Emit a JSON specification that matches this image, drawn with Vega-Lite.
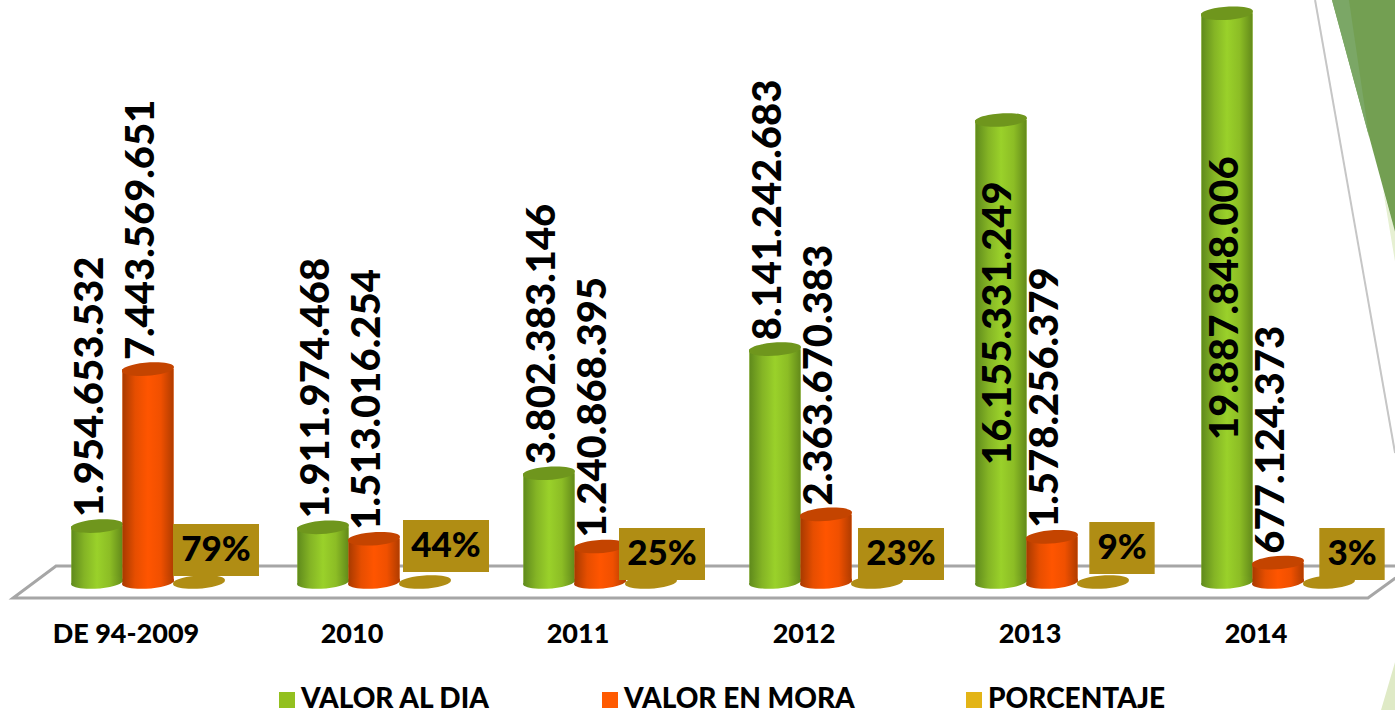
{
"$schema":"https://vega.github.io/schema/vega-lite/v6.json",
"width":1395,"height":710,"padding":0,"autosize":{"type":"none"},
"background":"white",
"config":{"view":{"stroke":null},"font":"Lato"},
"datasets":{
"rows":[
{"category":"DE 94-2009","series":"VALOR AL DIA","value":1954653532,"label":"1.954.653.532"},
{"category":"DE 94-2009","series":"VALOR EN MORA","value":7443569651,"label":"7.443.569.651"},
{"category":"DE 94-2009","series":"PORCENTAJE","value":0.79,"label":"79%"},
{"category":"2010","series":"VALOR AL DIA","value":1911974468,"label":"1.911.974.468"},
{"category":"2010","series":"VALOR EN MORA","value":1513016254,"label":"1.513.016.254"},
{"category":"2010","series":"PORCENTAJE","value":0.44,"label":"44%"},
{"category":"2011","series":"VALOR AL DIA","value":3802383146,"label":"3.802.383.146"},
{"category":"2011","series":"VALOR EN MORA","value":1240868395,"label":"1.240.868.395"},
{"category":"2011","series":"PORCENTAJE","value":0.25,"label":"25%"},
{"category":"2012","series":"VALOR AL DIA","value":8141242683,"label":"8.141.242.683"},
{"category":"2012","series":"VALOR EN MORA","value":2363670383,"label":"2.363.670.383"},
{"category":"2012","series":"PORCENTAJE","value":0.23,"label":"23%"},
{"category":"2013","series":"VALOR AL DIA","value":16155331249,"label":"16.155.331.249"},
{"category":"2013","series":"VALOR EN MORA","value":1578256379,"label":"1.578.256.379"},
{"category":"2013","series":"PORCENTAJE","value":0.09,"label":"9%"},
{"category":"2014","series":"VALOR AL DIA","value":19887848006,"label":"19.887.848.006"},
{"category":"2014","series":"VALOR EN MORA","value":677124373,"label":"677.124.373"},
{"category":"2014","series":"PORCENTAJE","value":0.03,"label":"3%"}
],
"scene":[
{"piece":"floor","ord":0,"u":6.02,"v":560000000},
{"piece":"floor","ord":1,"u":0.093,"v":560000000},
{"piece":"floor","ord":2,"u":-0.097,"v":-560000000},
{"piece":"floor","ord":3,"u":5.898,"v":-560000000},
{"piece":"floor","ord":4,"u":6.02,"v":140000000},
{"piece":"edge","ord":0,"u":5.664,"v":20350000000},
{"piece":"edge","ord":1,"u":6.018,"v":4510000000},
{"piece":"main","ord":0,"u":5.739,"v":20350000000},
{"piece":"main","ord":1,"u":6.018,"v":20350000000},
{"piece":"main","ord":2,"u":6.018,"v":12240000000},
{"piece":"strip","ord":0,"u":5.739,"v":20350000000},
{"piece":"strip","ord":1,"u":5.814,"v":20350000000},
{"piece":"strip","ord":2,"u":5.903,"v":15560000000},
{"piece":"pale","ord":0,"u":5.965,"v":13710000000},
{"piece":"pale","ord":1,"u":6.018,"v":12240000000},
{"piece":"pale","ord":2,"u":6.018,"v":11190000000},
{"piece":"corner","ord":0,"u":5.956,"v":-4476000000},
{"piece":"corner","ord":1,"u":6.018,"v":-2800000000},
{"piece":"corner","ord":2,"u":6.018,"v":-4476000000}
]
},
"layer":[
{
"data":{"name":"scene"},
"encoding":{
"x":{"field":"u","type":"quantitative","axis":null,"scale":{"domain":[0,6],"range":[35,1391],"nice":false,"zero":false}},
"y":{"field":"v","type":"quantitative","axis":null,"scale":{"domain":[-4476000000,20350000000],"nice":false,"zero":false}},
"order":{"field":"ord","type":"ordinal"}
},
"layer":[
{"transform":[{"filter":"datum.piece==='pale'"}],"mark":{"type":"line","fill":"#e6f0d2","stroke":null,"strokeWidth":0}},
{"transform":[{"filter":"datum.piece==='corner'"}],"mark":{"type":"line","fill":"#dfeac6","stroke":null,"strokeWidth":0}},
{"transform":[{"filter":"datum.piece==='main'"}],"mark":{"type":"line","fill":"#739f52","stroke":null,"strokeWidth":0}},
{"transform":[{"filter":"datum.piece==='strip'"}],"mark":{"type":"line","fill":"#7ba766","stroke":null,"strokeWidth":0}},
{"transform":[{"filter":"datum.piece==='edge'"}],"mark":{"type":"line","color":"#c6c6c6","strokeWidth":2}},
{"transform":[{"filter":"datum.piece==='floor'"}],"mark":{"type":"line","color":"#a6a6a6","strokeWidth":3}}
]
},
{
"data":{"name":"rows"},
"encoding":{
"x":{"field":"category","type":"nominal","sort":null,
"scale":{"domain":["DE 94-2009","2010","2011","2012","2013","2014"],"range":[35,1391],"paddingInner":0.323,"paddingOuter":0.1615},
"axis":{"title":null,"domain":false,"ticks":false,"labelAngle":0,"labelFont":"Lato","labelFontWeight":900,"labelFontSize":27,"labelColor":"#000000","labelOffset":-22,"offset":-89,"labelPadding":0,"grid":false}},
"xOffset":{"field":"series","type":"nominal","sort":null,"scale":{"domain":["VALOR AL DIA","VALOR EN MORA","PORCENTAJE"],"paddingInner":0,"paddingOuter":0}},
"y":{"field":"value","type":"quantitative","axis":null,"scale":{"domain":[-4476000000,20350000000],"nice":false,"zero":false}}
},
"layer":[
{"mark":{"type":"bar"},"encoding":{
"y2":{"datum":0},
"color":{"field":"series","type":"nominal","sort":null,
"scale":{"domain":["VALOR AL DIA","VALOR EN MORA","PORCENTAJE"],"range":["#93c01f","#ff5a00","#e3b416"]},
"legend":{"title":null,"orient":"none","legendX":273,"legendY":686,"direction":"horizontal","columns":3,"symbolType":"square","symbolSize":256,"symbolStrokeWidth":0,"labelFont":"Lato","labelFontWeight":900,"labelFontSize":28,"labelColor":"#000000","labelOffset":0,"labelLimit":400,"columnPadding":105,"padding":0}}
}},
{"transform":[{"filter":"datum.series==='VALOR AL DIA'"}],"mark":{"type":"bar","fill":{"gradient":"linear","x1":0,"x2":1,"y1":0,"y2":0,"stops":[{"offset":0,"color":"#5f8a1c"},{"offset":0.25,"color":"#84b425"},{"offset":0.5,"color":"#9ad12a"},{"offset":0.75,"color":"#8cbd25"},{"offset":1,"color":"#638a1a"}]}},"encoding":{"y2":{"datum":0}}},
{"transform":[{"filter":"datum.series==='VALOR AL DIA'"}],"mark":{"type":"point","filled":true,"opacity":1,"size":2704,"shape":"M-0.996,0.06A1,0.24,-4,1,1,0.996,-0.06A1,0.24,-4,1,1,-0.996,0.06Z","fill":{"gradient":"linear","x1":0,"x2":1,"y1":0,"y2":0,"stops":[{"offset":0,"color":"#5f8a1c"},{"offset":0.25,"color":"#84b425"},{"offset":0.5,"color":"#9ad12a"},{"offset":0.75,"color":"#8cbd25"},{"offset":1,"color":"#638a1a"}]}},"encoding":{"y":{"datum":0}}},
{"transform":[{"filter":"datum.series==='VALOR AL DIA'"}],"mark":{"type":"point","filled":true,"opacity":1,"size":2704,"shape":"M-0.996,0.06A1,0.24,-4,1,1,0.996,-0.06A1,0.24,-4,1,1,-0.996,0.06Z","color":"#6f961d"}},
{"transform":[{"filter":"datum.series==='VALOR EN MORA'"}],"mark":{"type":"bar","fill":{"gradient":"linear","x1":0,"x2":1,"y1":0,"y2":0,"stops":[{"offset":0,"color":"#a83a00"},{"offset":0.25,"color":"#e64e00"},{"offset":0.5,"color":"#ff5500"},{"offset":0.75,"color":"#f05000"},{"offset":1,"color":"#b03c00"}]}},"encoding":{"y2":{"datum":0}}},
{"transform":[{"filter":"datum.series==='VALOR EN MORA'"}],"mark":{"type":"point","filled":true,"opacity":1,"size":2704,"shape":"M-0.996,0.06A1,0.24,-4,1,1,0.996,-0.06A1,0.24,-4,1,1,-0.996,0.06Z","fill":{"gradient":"linear","x1":0,"x2":1,"y1":0,"y2":0,"stops":[{"offset":0,"color":"#a83a00"},{"offset":0.25,"color":"#e64e00"},{"offset":0.5,"color":"#ff5500"},{"offset":0.75,"color":"#f05000"},{"offset":1,"color":"#b03c00"}]}},"encoding":{"y":{"datum":0}}},
{"transform":[{"filter":"datum.series==='VALOR EN MORA'"}],"mark":{"type":"point","filled":true,"opacity":1,"size":2704,"shape":"M-0.996,0.06A1,0.24,-4,1,1,0.996,-0.06A1,0.24,-4,1,1,-0.996,0.06Z","color":"#c44400"}},
{"transform":[{"filter":"datum.series==='PORCENTAJE'"}],"mark":{"type":"point","filled":true,"opacity":1,"size":2704,"shape":"M-0.996,0.06A1,0.24,-4,1,1,0.996,-0.06A1,0.24,-4,1,1,-0.996,0.06Z","color":"#b08d14"}}
]
},
{
"data":{"name":"rows"},
"transform":[{"filter":"datum.series==='PORCENTAJE'"}],
"encoding":{
"x":{"field":"category","type":"nominal","sort":null,"axis":null,"scale":{"domain":["DE 94-2009","2010","2011","2012","2013","2014"],"range":[35,1391],"paddingInner":0.323,"paddingOuter":0.1615}},
"y":{"datum":0,"type":"quantitative","axis":null,"scale":{"domain":[-4476000000,20350000000],"nice":false,"zero":false}},
"text":{"field":"label","type":"nominal"}
},
"layer":[
{"transform":[{"filter":"datum.label==='79%'"}],"mark":{"type":"point","filled":true,"opacity":1,"size":7396,"color":"#b08d14","shape":"M-1,-0.605H1V0.605H-1Z","xOffset":68,"yOffset":-32}},
{"transform":[{"filter":"datum.label==='44%'"}],"mark":{"type":"point","filled":true,"opacity":1,"size":7396,"color":"#b08d14","shape":"M-1,-0.605H1V0.605H-1Z","xOffset":72,"yOffset":-36}},
{"transform":[{"filter":"datum.label==='25%'"}],"mark":{"type":"point","filled":true,"opacity":1,"size":7396,"color":"#b08d14","shape":"M-1,-0.605H1V0.605H-1Z","xOffset":62,"yOffset":-28}},
{"transform":[{"filter":"datum.label==='23%'"}],"mark":{"type":"point","filled":true,"opacity":1,"size":7396,"color":"#b08d14","shape":"M-1,-0.605H1V0.605H-1Z","xOffset":75,"yOffset":-28}},
{"transform":[{"filter":"datum.label==='9%'"}],"mark":{"type":"point","filled":true,"opacity":1,"size":7396,"color":"#b08d14","shape":"M-0.76,-0.605H0.76V0.605H-0.76Z","xOffset":70,"yOffset":-34}},
{"transform":[{"filter":"datum.label==='3%'"}],"mark":{"type":"point","filled":true,"opacity":1,"size":7396,"color":"#b08d14","shape":"M-0.76,-0.605H0.76V0.605H-0.76Z","xOffset":74,"yOffset":-28}},
{"transform":[{"filter":"datum.label==='79%'"}],"mark":{"type":"text","font":"Lato","fontWeight":900,"fontSize":35,"color":"#000000","align":"center","baseline":"middle","xOffset":68,"yOffset":-32}},
{"transform":[{"filter":"datum.label==='44%'"}],"mark":{"type":"text","font":"Lato","fontWeight":900,"fontSize":35,"color":"#000000","align":"center","baseline":"middle","xOffset":72,"yOffset":-36}},
{"transform":[{"filter":"datum.label==='25%'"}],"mark":{"type":"text","font":"Lato","fontWeight":900,"fontSize":35,"color":"#000000","align":"center","baseline":"middle","xOffset":62,"yOffset":-28}},
{"transform":[{"filter":"datum.label==='23%'"}],"mark":{"type":"text","font":"Lato","fontWeight":900,"fontSize":35,"color":"#000000","align":"center","baseline":"middle","xOffset":75,"yOffset":-28}},
{"transform":[{"filter":"datum.label==='9%'"}],"mark":{"type":"text","font":"Lato","fontWeight":900,"fontSize":35,"color":"#000000","align":"center","baseline":"middle","xOffset":70,"yOffset":-34}},
{"transform":[{"filter":"datum.label==='3%'"}],"mark":{"type":"text","font":"Lato","fontWeight":900,"fontSize":35,"color":"#000000","align":"center","baseline":"middle","xOffset":74,"yOffset":-28}}
]
},
{
"data":{"name":"rows"},
"transform":[{"filter":"datum.series!=='PORCENTAJE'"}],
"encoding":{
"x":{"field":"category","type":"nominal","sort":null,"axis":null,"scale":{"domain":["DE 94-2009","2010","2011","2012","2013","2014"],"range":[35,1391],"paddingInner":0.323,"paddingOuter":0.1615}},
"xOffset":{"field":"series","type":"nominal","sort":null,"scale":{"type":"point","padding":0.5,"domain":["VALOR AL DIA","VALOR EN MORA","PORCENTAJE"]}},
"y":{"field":"value","type":"quantitative","axis":null,"scale":{"domain":[-4476000000,20350000000],"nice":false,"zero":false}},
"text":{"field":"label","type":"nominal"}
},
"layer":[
{"transform":[{"filter":"datum.value<16000000000"}],"mark":{"type":"text","font":"Lato","fontWeight":900,"fontSize":40,"color":"#000000","angle":270,"align":"left","baseline":"middle","dx":9,"dy":-6}},
{"transform":[{"filter":"datum.label==='16.155.331.249'"}],"mark":{"type":"text","font":"Lato","fontWeight":900,"fontSize":40,"color":"#000000","angle":270,"align":"left","baseline":"middle","dy":-2},"encoding":{"y":{"datum":4090000000,"type":"quantitative"}}},
{"transform":[{"filter":"datum.label==='19.887.848.006'"}],"mark":{"type":"text","font":"Lato","fontWeight":900,"fontSize":40,"color":"#000000","angle":270,"align":"left","baseline":"middle","dy":-1},"encoding":{"y":{"datum":4965000000,"type":"quantitative"}}}
]
}
],
"resolve":{"scale":{"x":"independent","y":"independent","xOffset":"independent","color":"independent"},"axis":{"x":"independent","y":"independent"},"legend":{"color":"independent"}}
}
